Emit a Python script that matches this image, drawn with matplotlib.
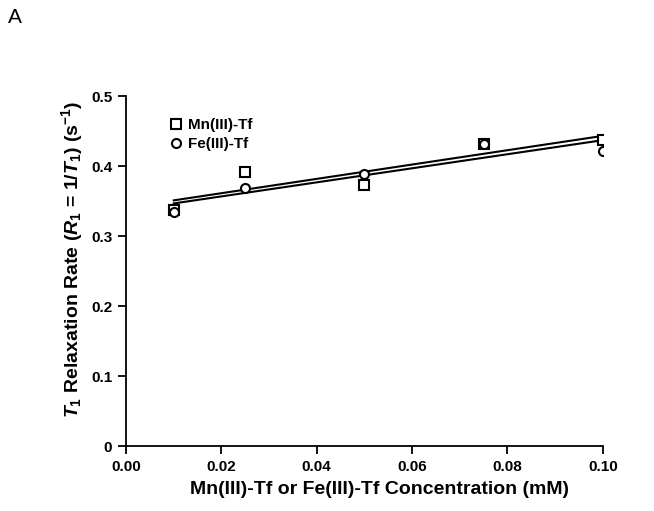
import numpy as np
import matplotlib
matplotlib.use("Agg")
import matplotlib.pyplot as plt

conc = [0.01, 0.025, 0.05, 0.075, 0.10]
mn_r1 = [0.337, 0.391, 0.373, 0.432, 0.437]
fe_r1 = [0.334, 0.369, 0.389, 0.431, 0.421]
xticks = [0.00, 0.02, 0.04, 0.06, 0.08, 0.10]
yticks = [0, 0.1, 0.2, 0.3, 0.4, 0.5]
ytick_labels = ["0", "0.1", "0.2", "0.3", "0.4", "0.5"]

plt.rcParams['font.family'] = ['Liberation Sans', 'DejaVu Sans']
plt.rcParams['mathtext.fontset'] = 'custom'
plt.rcParams['mathtext.rm'] = 'Liberation Sans:bold'
plt.rcParams['mathtext.it'] = 'Liberation Sans:italic:bold'
plt.rcParams['mathtext.bf'] = 'Liberation Sans:bold'

fig = plt.figure(figsize=(6.54, 5.11), dpi=100)
ax = fig.add_axes([0.1927, 0.127, 0.729, 0.685])

x = np.array(conc)
for ys, mk, lab in [(mn_r1, 's', 'Mn(III)-Tf'), (fe_r1, 'o', 'Fe(III)-Tf')]:
    ys = np.array(ys)
    ax.plot(x, ys, linestyle='none', marker=mk, markersize=6.5, markerfacecolor='white',
            markeredgecolor='black', markeredgewidth=1.5, label=lab, zorder=3)
    p = np.polyfit(x, ys, 1)
    xf = np.array([x.min(), x.max()])
    ax.plot(xf, np.polyval(p, xf), color='black', linewidth=1.5, zorder=2)

ax.set_xlim(0, 0.10)
ax.set_ylim(0, 0.5)
ax.set_xticks(xticks)
ax.set_xticklabels([f"{t:.2f}" for t in xticks])
ax.set_yticks(yticks)
ax.set_yticklabels(ytick_labels)
for s in ['top', 'right']:
    ax.spines[s].set_visible(False)
for s in ['left', 'bottom']:
    ax.spines[s].set_linewidth(1.3)
ax.tick_params(direction='out', length=6, width=1.3, labelsize=11, pad=4)
for lbl in ax.get_xticklabels() + ax.get_yticklabels():
    lbl.set_fontweight('bold')

ax.set_xlabel("Mn(III)-Tf or Fe(III)-Tf Concentration (mM)", fontsize=14, fontweight='bold')
ax.xaxis.set_label_coords(0.532, -0.10)
ax.set_ylabel(r"$\mathit{T}_\mathrm{1}$ Relaxation Rate ($\mathit{R}_\mathrm{1}$ = 1/$\mathit{T}_\mathrm{1}$) (s$^\mathrm{-1}$)",
              fontsize=14, fontweight='bold')
ax.yaxis.set_label_coords(-0.086, 0.534)

leg = ax.legend(loc='upper left', bbox_to_anchor=(0.092, 0.936), frameon=False, fontsize=11,
                handlelength=0.8, handletextpad=0.4, labelspacing=0.32, borderaxespad=0, borderpad=0)
for t in leg.get_texts():
    t.set_fontweight('bold')

fig.text(0.012, 0.985, "A", fontsize=15, ha='left', va='top')

fig.savefig("out.png", dpi=100)
